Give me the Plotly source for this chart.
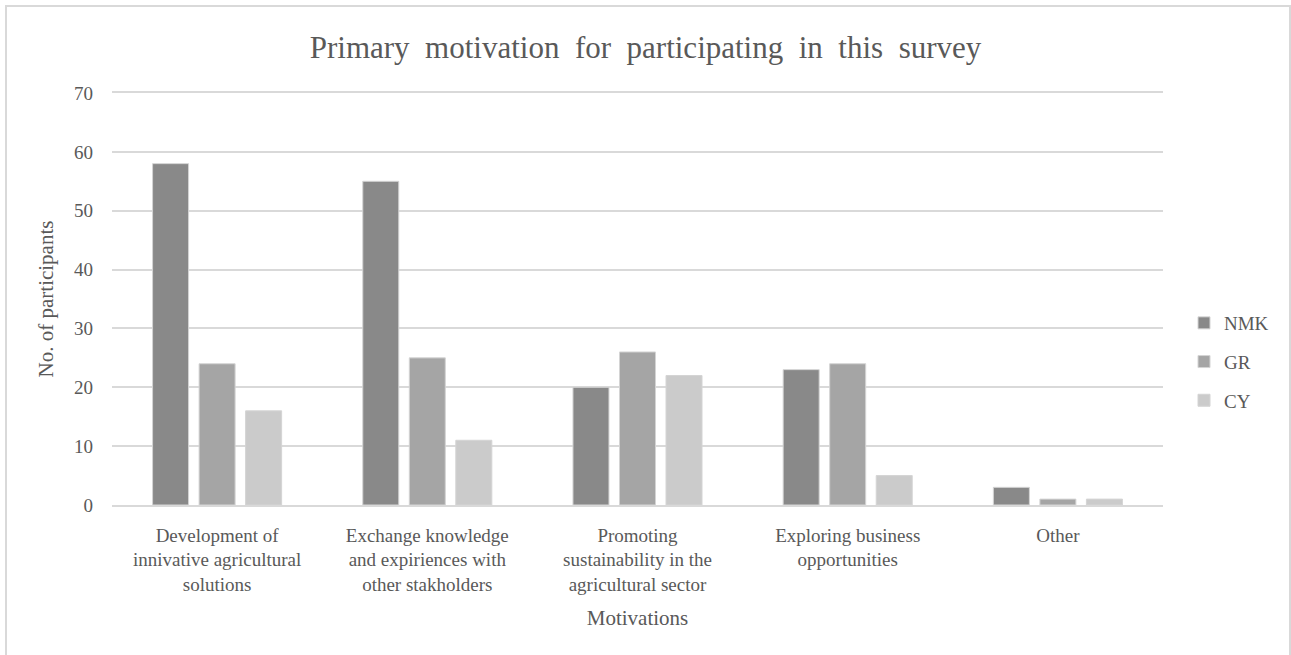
import plotly.graph_objects as go

categories = [
    "Development of<br>innivative agricultural<br>solutions",
    "Exchange knowledge<br>and expiriences with<br>other stakholders",
    "Promoting<br>sustainability in the<br>agricultural sector",
    "Exploring business<br>opportunities",
    "Other",
]
series_names = ["NMK", "GR", "CY"]
nmk = [58, 55, 20, 23, 3]
gr = [24, 25, 26, 24, 1]
cy = [16, 11, 22, 5, 1]
colors = ["#898989", "#a5a5a5", "#cbcbcb"]
y_ticks = [0, 10, 20, 30, 40, 50, 60, 70]

FONT = "Liberation Serif"
TXT = "#595959"

fig = go.Figure()
for i, (name, vals) in enumerate(zip(series_names, [nmk, gr, cy])):
    fig.add_trace(go.Bar(
        x=categories, y=vals, name=name, legendgroup=name,
        marker=dict(color=colors[i], line=dict(color="#d4d4d4", width=1)),
    ))

fig.update_layout(
    width=1291, height=655,
    margin=dict(l=112, r=128, t=93, b=150, autoexpand=False),
    paper_bgcolor="white", plot_bgcolor="white",
    barmode="group", bargap=0.336, bargroupgap=0.226,
    font=dict(family=FONT, color=TXT, size=19),
    title=dict(text="Primary  motivation  for  participating  in  this  survey",
               x=0.5, xref="container", xanchor="center",
               y=1 - 47 / 655, yref="container", yanchor="middle",
               font=dict(size=31, color=TXT, family=FONT)),
    legend=dict(x=1184 / 1291, xref="container", xanchor="left",
                y=(655 - 362) / 655, yref="container", yanchor="middle",
                font=dict(size=19, color=TXT, family=FONT),
                traceorder="grouped", tracegroupgap=11, itemwidth=30,
                bgcolor="rgba(0,0,0,0)"),
    xaxis=dict(
        showgrid=False, showline=True, mirror=True, linecolor="#d9d9d9", linewidth=1.5,
        ticks="", tickfont=dict(size=19, color=TXT, family=FONT),
        ticklabelstandoff=12,
        title=dict(text="Motivations", font=dict(size=21, color=TXT, family=FONT), standoff=16),
    ),
    yaxis=dict(
        range=[0, 70], tickvals=y_ticks, showgrid=True, gridcolor="#d9d9d9",
        gridwidth=1.5, zeroline=False, showline=False, ticks="",
        ticklabelstandoff=18, tickfont=dict(size=19, color=TXT, family=FONT),
        title=dict(text="No. of participants", font=dict(size=21, color=TXT, family=FONT), standoff=14),
    ),
    shapes=[dict(type="rect", xref="paper", yref="paper",
                 x0=(6 - 112) / 1051, x1=(1290 - 112) / 1051,
                 y0=(505 - 670) / 412, y1=(505 - 6) / 412,
                 line=dict(color="#d9d9d9", width=2), layer="below")],
)

fig.write_html("out.html")
